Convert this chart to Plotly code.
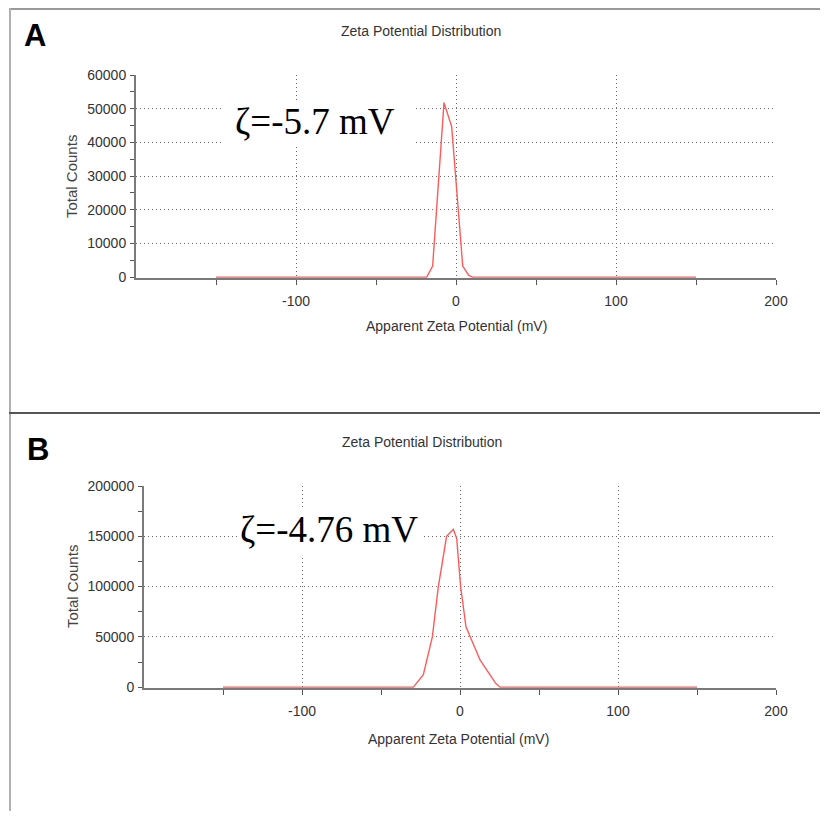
import plotly.graph_objects as go

# ---------------- data ----------------
zeta_a = [-150, -18.3, -14.6, -7.5, -2.7, 4.2, 8.0, 10.4, 150]
counts_a = [0, 0, 3300, 51800, 44700, 3300, 500, 0, 0]

zeta_b = [-150, -29.5, -23.2, -17.5, -13.7, -8.5, -4.2, -2.1, 0.4, 3.8, 12.7, 18.9, 22.5, 25.3, 150]
counts_b = [0, 0, 12500, 50000, 100000, 150000, 157000, 148000, 100000, 60000, 27000, 13000, 4000, 0, 0]

x_ticks = [-100, 0, 100, 200]
x_minor_ticks = [-150, -50, 50, 150]
y_ticks_a = [0, 10000, 20000, 30000, 40000, 50000, 60000]
y_ticks_b = [0, 50000, 100000, 150000, 200000]

chart_title = "Zeta Potential Distribution"
x_title = "Apparent Zeta Potential (mV)"
y_title = "Total Counts"
zeta_labels = ["ζ=-5.7 mV", "ζ=-4.76 mV"]
panel_labels = ["A", "B"]

# ---------------- layout helpers ----------------
# the page keeps an 8px body margin; the figure is sized to fill the 828x819 window
OFF = 8
W, H = 828 - 2 * OFF, 819 - 2 * OFF


def px(x):
    return (x - OFF) / W


def py(y):
    return 1 - (y - OFF) / H


SANS = "Liberation Sans, Arial, sans-serif"
SERIF = "Liberation Serif, Times New Roman, serif"
LINE = "rgb(255,90,90)"

fig = go.Figure()
fig.add_trace(go.Scatter(x=zeta_a, y=counts_a, mode="lines",
                         line=dict(color=LINE, width=1.4),
                         xaxis="x", yaxis="y", showlegend=False))
fig.add_trace(go.Scatter(x=zeta_b, y=counts_b, mode="lines",
                         line=dict(color=LINE, width=1.4),
                         xaxis="x2", yaxis="y2", showlegend=False))


def xaxis_cfg(domain, anchor):
    return dict(
        domain=domain, anchor=anchor, range=[-200, 200],
        tickmode="array", tickvals=x_ticks, ticktext=[str(v) for v in x_ticks],
        showgrid=True, gridcolor="#6a6a6a", griddash="1px,3px", gridwidth=1,
        showline=True, linecolor="#7a7a7a", linewidth=2,
        ticks="outside", ticklen=5, tickcolor="#555", tickwidth=1,
        minor=dict(tickmode="array", tickvals=x_minor_ticks, ticks="outside",
                   ticklen=5, tickcolor="#555", showgrid=False),
        zeroline=False, layer="below traces", automargin=False,
        tickfont=dict(family=SANS, size=14, color="#333"),
        ticklabelstandoff=4, fixedrange=True,
    )


def yaxis_cfg(domain, anchor, ticks, top, dminor):
    return dict(
        domain=domain, anchor=anchor, range=[-top * 0.0042, top],
        tickmode="array", tickvals=ticks, ticktext=[str(v) for v in ticks],
        showgrid=True, gridcolor="#6a6a6a", griddash="1px,3px", gridwidth=1,
        showline=True, linecolor="#7a7a7a", linewidth=2,
        ticks="outside", ticklen=4, tickcolor="#555", tickwidth=1,
        minor=dict(dtick=dminor, tick0=0, ticks="outside", ticklen=4,
                   tickcolor="#555", showgrid=False),
        zeroline=False, layer="below traces", automargin=False,
        tickfont=dict(family=SANS, size=14, color="#333"),
        ticklabelstandoff=1, fixedrange=True,
    )


fig.update_layout(
    width=W, height=H,
    margin=dict(l=0, r=0, t=0, b=0, pad=0),
    paper_bgcolor="white", plot_bgcolor="white",
    xaxis=xaxis_cfg([px(136), px(776)], "y"),
    yaxis=yaxis_cfg([py(278), py(75)], "x", y_ticks_a, y_ticks_a[-1], 5000),
    xaxis2=xaxis_cfg([px(144), px(776)], "y2"),
    yaxis2=yaxis_cfg([py(688), py(486)], "x2", y_ticks_b, y_ticks_b[-1], 25000),
)

annotations = []
shapes = []

panels = [
    dict(letter=(35, 35), title=(421, 31), xt=(456, 326), yt=(72, 177),
         box=(224, 100, 414, 147), zeta=(315, 121)),
    dict(letter=(38, 449), title=(422, 442), xt=(459, 739), yt=(72, 587),
         box=(238, 508, 422, 555), zeta=(329, 529)),
]

for i, p in enumerate(panels):
    annotations.append(dict(text=panel_labels[i], x=px(p["letter"][0]), y=py(p["letter"][1]),
                            xref="paper", yref="paper", xanchor="center", yanchor="middle",
                            showarrow=False,
                            font=dict(family=SANS, size=31, color="black", weight="bold")))
    annotations.append(dict(text=chart_title, x=px(p["title"][0]), y=py(p["title"][1]),
                            xref="paper", yref="paper", xanchor="center", yanchor="middle",
                            showarrow=False, font=dict(family=SANS, size=14, color="#333")))
    annotations.append(dict(text=x_title, x=px(p["xt"][0]), y=py(p["xt"][1]),
                            xref="paper", yref="paper", xanchor="center", yanchor="middle",
                            showarrow=False, font=dict(family=SANS, size=14, color="#333")))
    annotations.append(dict(text=y_title, x=px(p["yt"][0]), y=py(p["yt"][1]),
                            xref="paper", yref="paper", xanchor="center", yanchor="middle",
                            textangle=-90, showarrow=False,
                            font=dict(family=SANS, size=15, color="#444")))
    bx0, by0, bx1, by1 = p["box"]
    shapes.append(dict(type="rect", xref="paper", yref="paper",
                       x0=px(bx0), x1=px(bx1), y0=py(by1), y1=py(by0),
                       fillcolor="white", line=dict(width=0), layer="above"))
    annotations.append(dict(text=zeta_labels[i], x=px(p["zeta"][0]), y=py(p["zeta"][1]),
                            xref="paper", yref="paper", xanchor="center", yanchor="middle",
                            showarrow=False, font=dict(family=SERIF, size=37, color="black")))

# panel frames
shapes += [
    dict(type="line", xref="paper", yref="paper", x0=px(9), x1=px(840), y0=py(9), y1=py(9),
         line=dict(color="#9a9a9a", width=2)),
    dict(type="line", xref="paper", yref="paper", x0=px(10), x1=px(10), y0=py(8), y1=py(840),
         line=dict(color="#b0b0b0", width=2)),
    dict(type="line", xref="paper", yref="paper", x0=px(9), x1=px(840), y0=py(413), y1=py(413),
         line=dict(color="#555555", width=2)),
]

fig.update_layout(annotations=annotations, shapes=shapes)

fig.write_html("out.html", config=dict(displayModeBar=False))
